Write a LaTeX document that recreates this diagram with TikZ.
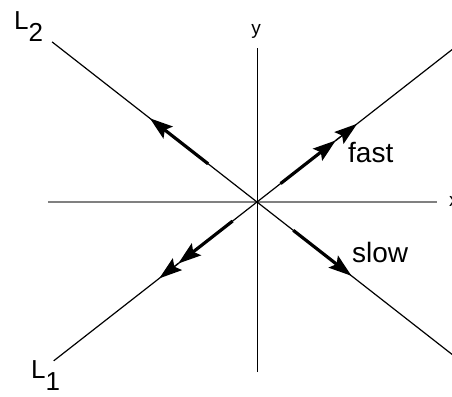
\documentclass[tikz,border=0pt]{standalone}
\usepackage{fontspec}
\setmainfont{Liberation Sans}
\usetikzlibrary{arrows.meta}
\definecolor{axisgray}{HTML}{808080}

\begin{document}
\begin{tikzpicture}[x=1pt, y=1pt,
  >={Stealth[length=23pt, width=15pt, inset=4pt]},
  ray/.style={black, line width=1.2pt},
  flow/.style={black, line width=3.2pt, ->},
  lab/.style={font=\fontsize{28}{28}\selectfont, inner sep=0pt, anchor=base west},
  axlab/.style={font=\fontsize{19}{19}\selectfont, inner sep=0pt}]

% Frame
\useasboundingbox (-257,-194) rectangle (195,202);

% Axes
\draw[axisgray, line width=1.4pt] (-209,0) -- (180,0);
\draw[black, line width=0.9pt] (0,-170) -- (0,154);
\node[axlab, anchor=base] (ylab) at (-1,167) {y};
\node[axlab, anchor=base west] (xlab) at (192,-5) {x};

% Eigen-lines through the origin
\coordinate (O) at (0,0);
\coordinate (L1lo) at (218:258);
\coordinate (L1hi) at (38:258);
\coordinate (L2hi) at (142:260);
\coordinate (L2lo) at (-38:260);
\draw[ray] (L1lo) -- (L1hi);
\draw[ray] (L2hi) -- (L2lo);

% Line labels (L with a lowered index)
\node[lab, font=\fontsize{26}{26}\selectfont] (l2lab) at (-243,172)
  {L\raisebox{-12pt}{2}};
\node[lab, font=\fontsize{26}{26}\selectfont] (l1lab) at (-226,-176)
  {L\raisebox{-12pt}{1}};

% Slow direction along L2 (one head)
\draw[flow] (142:62) -- (142:136);
\draw[flow] (-38:46) -- (-38:120);

% Fast direction along L1 (two heads)
\draw[flow] (38:30) -- (38:100);
\draw[ray, ->] (38:100) -- (38:127);
\draw[flow] (218:31) -- (218:100);
\draw[ray, ->] (218:100) -- (218:124);

% Speed labels
\node[lab] (fast) at (91,39) {fast};
\node[lab] (slow) at (95,-60) {slow};

\end{tikzpicture}
\end{document}
